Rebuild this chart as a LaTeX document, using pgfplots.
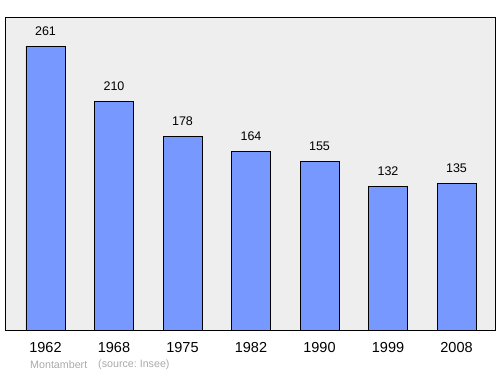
\documentclass[border=0pt]{standalone}
\usepackage{pgfplots}
\pgfplotsset{compat=1.18}
\usepackage{fontspec}
\setmainfont{Liberation Sans}
\frenchspacing
\definecolor{barblue}{HTML}{7799FF}
\definecolor{bgray}{HTML}{EEEEEE}
\definecolor{footgray}{HTML}{AAAAAA}
\begin{document}
\begin{tikzpicture}[x=1pt,y=1pt]
\path (0,0) rectangle (500,374);
\begin{axis}[
  at={(5pt,44pt)}, anchor=south west,
  scale only axis, width=490pt, height=313pt,
  xmin=-0.591, xmax=6.562, ymin=0, ymax=287.7,
  /pgf/number format/assume math mode=true,
  axis background/.style={fill=bgray},
  axis line style={black, line width=0.9pt},
  ytick=\empty,
  xtick=data,
  xticklabels={1962,1968,1975,1982,1990,1999,2008},
  xtick style={draw=none},
  xticklabel style={font=\fontsize{14.5}{16}\selectfont, yshift=-5pt},
  ybar, bar width=0.569,
  nodes near coords={\pgfmathprintnumber[assume math mode=true]{\pgfplotspointmeta}},
  every node near coord/.append style={font=\fontsize{12.5}{14}\selectfont, yshift=7pt},
  clip=false,
]
\addplot[fill=barblue, draw=black, line width=0.6pt] coordinates {
(0,261) (1,210) (2,178) (3,164) (4,155) (5,132) (6,135)};
\end{axis}
\node[anchor=west, inner sep=0, text=footgray, font=\fontsize{10.7}{12}\selectfont] at (30,9) {Montambert};
\node[anchor=west, inner sep=0, text=footgray, font=\fontsize{10.7}{12}\selectfont] at (98,9) {(source: Insee)};
\end{tikzpicture}
\end{document}
